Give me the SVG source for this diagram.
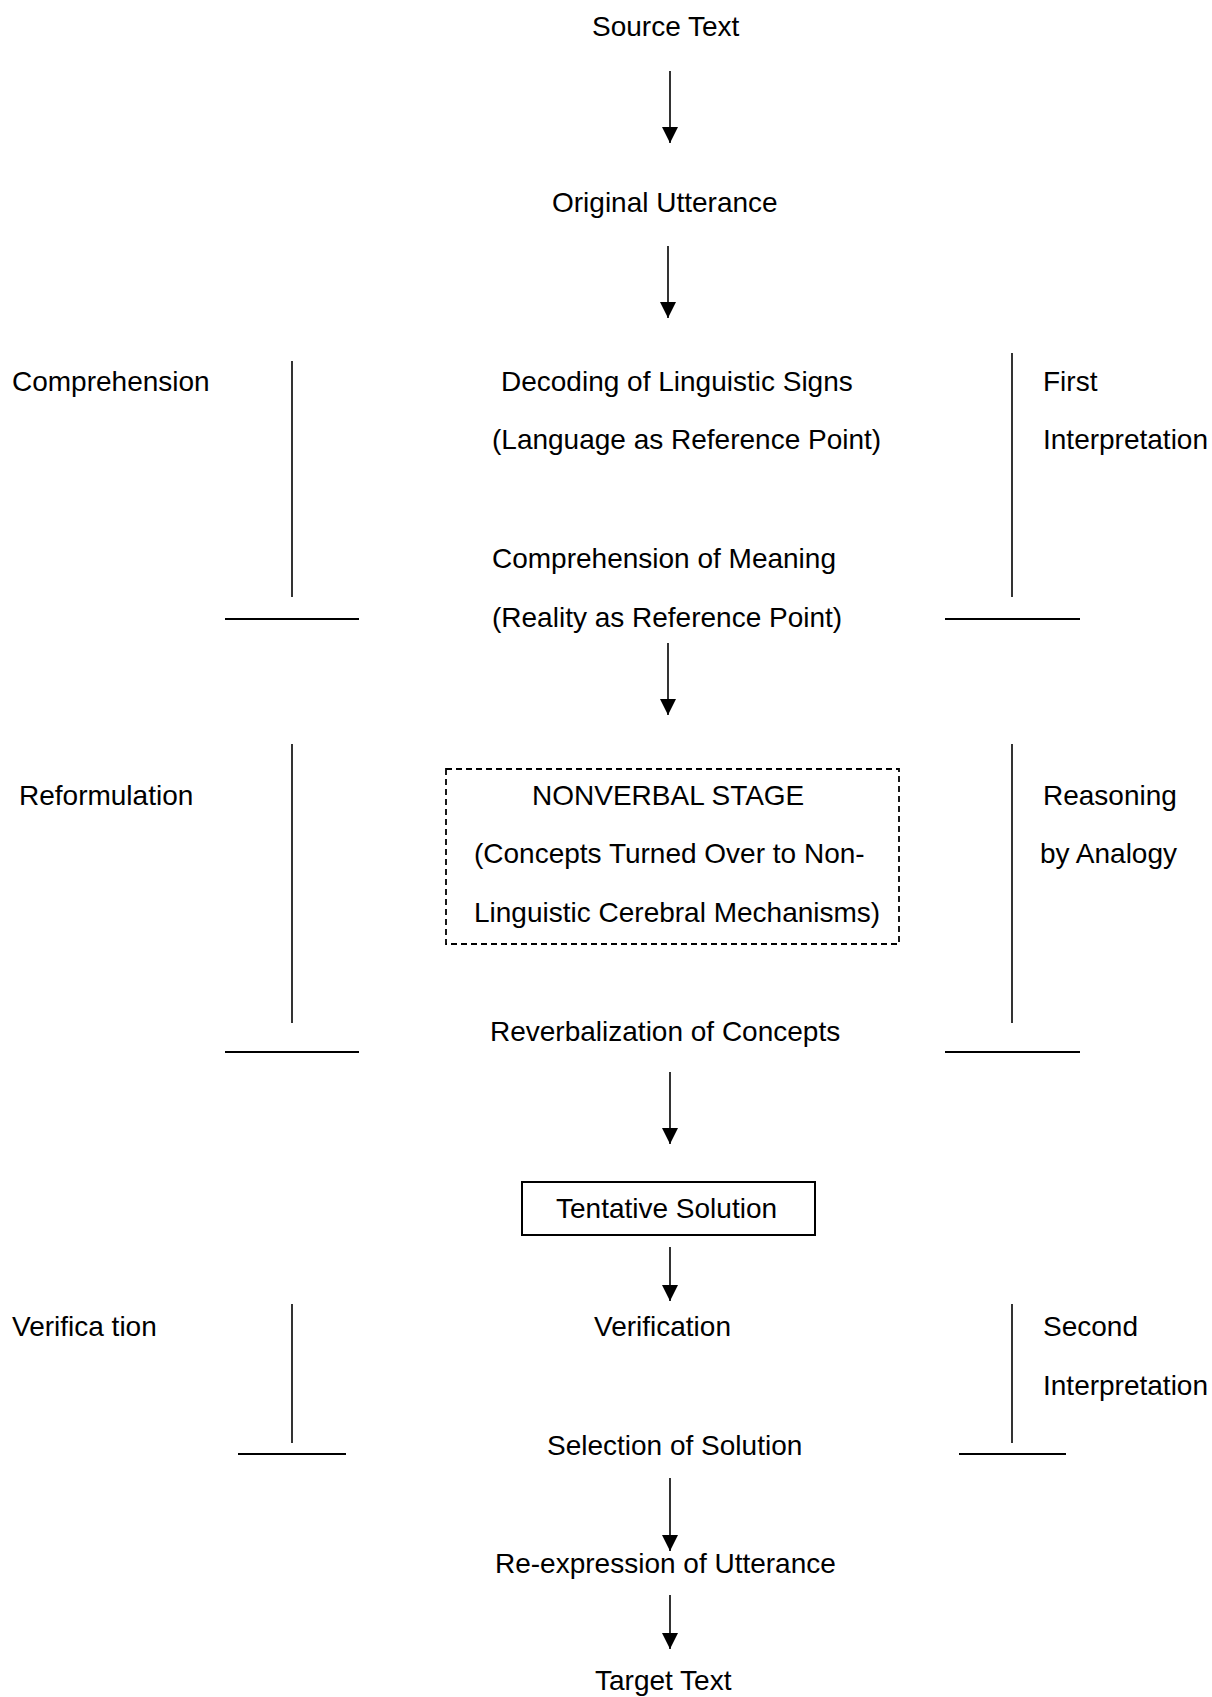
<svg xmlns="http://www.w3.org/2000/svg" width="1212" height="1697" viewBox="0 0 1212 1697">
<defs>
<style>
text{font-family:"Liberation Sans",Arial,sans-serif;font-size:28px;fill:#000}
.v{stroke:#000;stroke-width:1.6;fill:none}
.h{stroke:#000;stroke-width:2.2;fill:none}
.arr{stroke:#000;stroke-width:1.6;fill:none;marker-end:url(#ah)}
</style>
<marker id="ah" markerUnits="userSpaceOnUse" markerWidth="18" markerHeight="16" refX="16" refY="8" orient="auto">
<path d="M0,0 L16,8 L0,16 Z" fill="#000"/>
</marker>
</defs>
<rect width="1212" height="1697" fill="#fff"/>
<g id="source-text"><text x="592" y="36">Source Text</text></g>
<g id="original-utterance"><text x="552" y="212">Original Utterance</text></g>
<g id="decoding"><text x="501" y="391">Decoding of Linguistic Signs</text><text x="492" y="449">(Language as Reference Point)</text></g>
<g id="comprehension-meaning"><text x="492" y="568">Comprehension of Meaning</text><text x="492" y="627">(Reality as Reference Point)</text></g>
<g id="nonverbal-stage"><rect x="446" y="769" width="453" height="175" fill="none" stroke="#000" stroke-width="1.8" stroke-dasharray="6,4"/><text x="532" y="805">NONVERBAL STAGE</text><text x="474" y="863">(Concepts Turned Over to Non-</text><text x="474" y="922">Linguistic Cerebral Mechanisms)</text></g>
<g id="reverbalization"><text x="490" y="1041">Reverbalization of Concepts</text></g>
<g id="tentative-solution"><rect x="522" y="1182" width="293" height="53" fill="none" stroke="#000" stroke-width="2"/><text x="556" y="1218">Tentative Solution</text></g>
<g id="verification"><text x="594" y="1336">Verification</text></g>
<g id="selection"><text x="547" y="1455">Selection of Solution</text></g>
<g id="re-expression"><text x="495" y="1573">Re-expression of Utterance</text></g>
<g id="target-text"><text x="595" y="1690">Target Text</text></g>
<g id="comprehension-label"><text x="12" y="391">Comprehension</text></g>
<g id="first-interpretation-label"><text x="1043" y="391">First</text><text x="1043" y="449">Interpretation</text></g>
<g id="reformulation-label"><text x="19" y="805">Reformulation</text></g>
<g id="reasoning-label"><text x="1043" y="805">Reasoning</text><text x="1040" y="863">by Analogy</text></g>
<g id="verification-label"><text x="12" y="1336">Verifica tion</text></g>
<g id="second-interpretation-label"><text x="1043" y="1336">Second</text><text x="1043" y="1395">Interpretation</text></g>
<g id="connectors">
<line class="arr" x1="670" y1="71" x2="670" y2="143"/>
<line class="arr" x1="668" y1="246" x2="668" y2="318"/>
<line class="arr" x1="668" y1="643" x2="668" y2="715"/>
<line class="arr" x1="670" y1="1072" x2="670" y2="1144"/>
<line class="arr" x1="670" y1="1247" x2="670" y2="1301"/>
<line class="arr" x1="670" y1="1478" x2="670" y2="1551"/>
<line class="arr" x1="670" y1="1595" x2="670" y2="1649"/>
<line class="v" x1="292" y1="361" x2="292" y2="597"/>
<line class="h" x1="225" y1="619" x2="359" y2="619"/>
<line class="v" x1="1012" y1="353" x2="1012" y2="597"/>
<line class="h" x1="945" y1="619" x2="1080" y2="619"/>
<line class="v" x1="292" y1="744" x2="292" y2="1023"/>
<line class="h" x1="225" y1="1052" x2="359" y2="1052"/>
<line class="v" x1="1012" y1="744" x2="1012" y2="1023"/>
<line class="h" x1="945" y1="1052" x2="1080" y2="1052"/>
<line class="v" x1="292" y1="1304" x2="292" y2="1443"/>
<line class="h" x1="238" y1="1454" x2="346" y2="1454"/>
<line class="v" x1="1012" y1="1304" x2="1012" y2="1443"/>
<line class="h" x1="959" y1="1454" x2="1066" y2="1454"/>
</g>
</svg>
